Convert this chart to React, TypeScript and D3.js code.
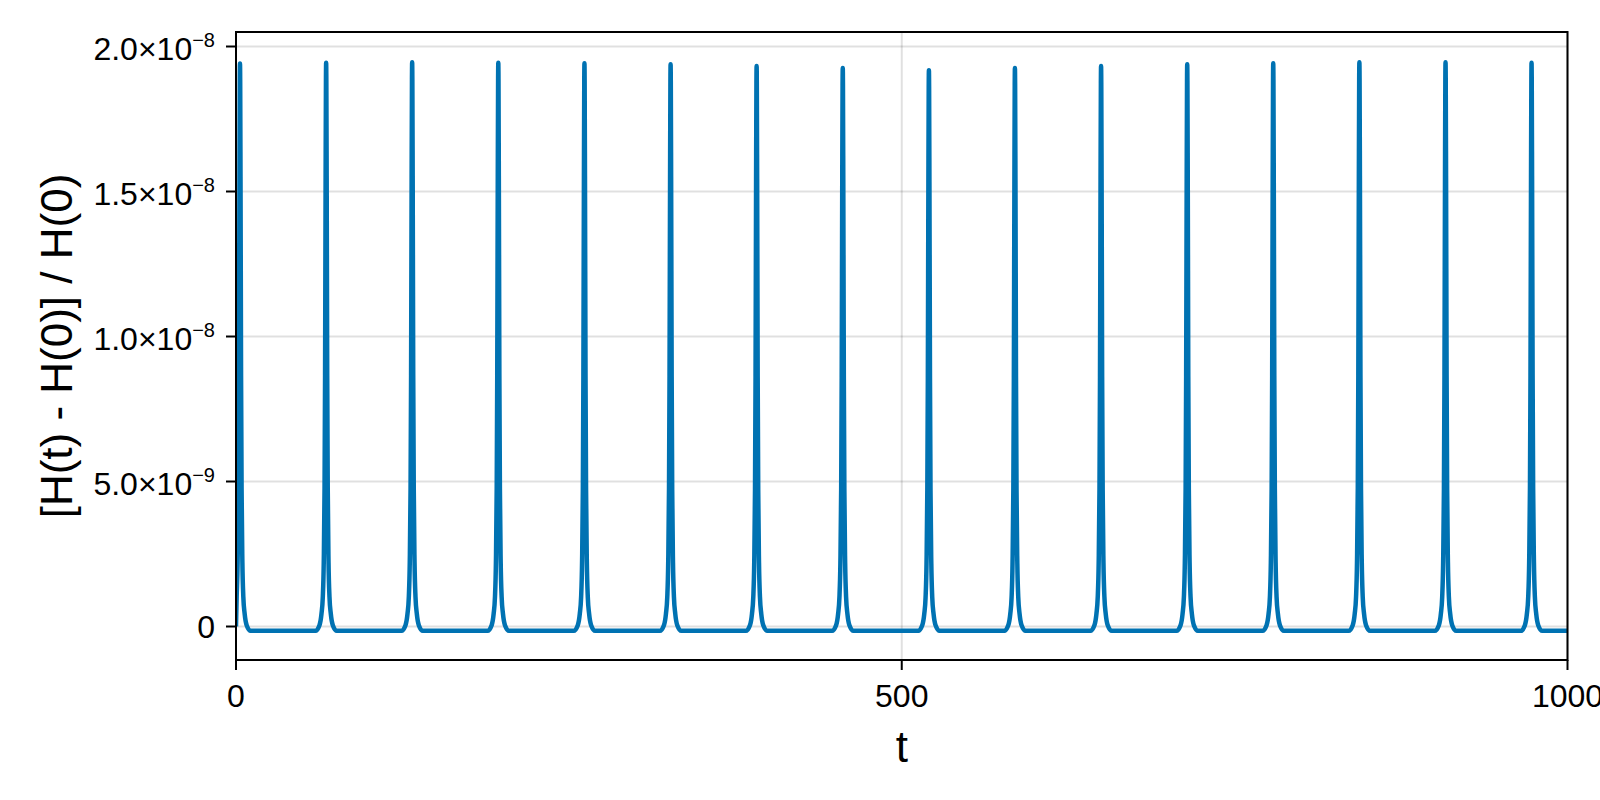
import React from 'react';
import * as d3 from 'd3';

// ---- data ----
const peakTimes = [3.0, 67.7, 132.3, 197.0, 261.7, 326.4, 391.0, 455.7, 520.4, 585.0, 649.7, 714.4, 779.0, 843.7, 908.4, 973.0];
const peakValues = [1.941e-8, 1.944e-8, 1.946e-8, 1.944e-8, 1.942e-8, 1.939e-8, 1.933e-8, 1.926e-8, 1.918e-8, 1.926e-8, 1.933e-8, 1.939e-8, 1.942e-8, 1.946e-8, 1.946e-8, 1.944e-8];
const baselineValue = -1.5e-10;
const startPoint = { t: 0, v: 0 };
const endTime = 1000;
// shape of one spike: time offset from the peak and fraction of peak height above baseline
const spikeOffsets = [-8, -5, -3.5, -2.5, -1.8, -1.2, -0.8, -0.4, -0.15, 0, 0.15, 0.4, 0.8, 1.2, 1.8, 2.5, 3.5, 5, 8];
const spikeShape = [0, 0.01, 0.03, 0.06, 0.12, 0.25, 0.45, 0.8, 0.97, 1, 0.97, 0.8, 0.45, 0.25, 0.12, 0.06, 0.03, 0.01, 0];

const xTicks = [0, 500, 1000];
const xTickLabels = ['0', '500', '1000'];
const yTicks = [0, 5e-9, 1e-8, 1.5e-8, 2e-8];
const yTickMantissas = ['0', '5.0', '1.0', '1.5', '2.0'];
const yTickExponents = ['', '−9', '−8', '−8', '−8'];

const xLabel = 't';
const yLabel = '[H(t) - H(0)] / H(0)';

// ---- layout ----
const W = 1600;
const H = 800;
const left = 236;
const right = 1567.5;
const top = 32;
const bottom = 660;
const font = '"Liberation Sans", Arial, Helvetica, sans-serif';
const lineColor = '#0072B2';
const gridColor = 'rgba(0,0,0,0.12)';

export default function App() {
  const x = d3.scaleLinear().domain([0, 1000]).range([left, right]);
  const y = d3.scaleLinear().domain([-1.155e-9, 2.05e-8]).range([bottom, top]);

  const points: { t: number; v: number }[] = [startPoint];
  peakTimes.forEach((pt, i) => {
    spikeOffsets.forEach((dt, j) => {
      const t = pt + dt;
      if (t <= 0 || t > endTime) return;
      points.push({ t, v: baselineValue + spikeShape[j] * (peakValues[i] - baselineValue) });
    });
  });
  points.push({ t: endTime, v: baselineValue });

  const line = d3
    .line<{ t: number; v: number }>()
    .x((d) => x(d.t))
    .y((d) => y(d.v))
    .curve(d3.curveMonotoneX);

  return (
    <div style={{ position: 'absolute', left: 0, top: 0, width: W, height: H, background: '#fff' }}>
      <svg width={W} height={H} style={{ display: 'block', fontFamily: font }}>
        <defs>
          <clipPath id="plotClip">
            <rect x={left} y={top} width={right - left} height={bottom - top} />
          </clipPath>
        </defs>
        <rect x={0} y={0} width={W} height={H} fill="#fff" />
        {/* grid */}
        {xTicks.map((t) => (
          <line key={'gx' + t} x1={x(t)} x2={x(t)} y1={top} y2={bottom} stroke={gridColor} strokeWidth={2} />
        ))}
        {yTicks.map((v) => (
          <line key={'gy' + v} x1={left} x2={right} y1={y(v)} y2={y(v)} stroke={gridColor} strokeWidth={2} />
        ))}
        {/* data */}
        <path
          d={line(points) || ''}
          fill="none"
          stroke={lineColor}
          strokeWidth={4.5}
          strokeLinejoin="round"
          clipPath="url(#plotClip)"
        />
        {/* spines */}
        <rect x={left} y={top} width={right - left} height={bottom - top} fill="none" stroke="#000" strokeWidth={2} />
        {/* x ticks */}
        {xTicks.map((t, i) => (
          <g key={'xt' + t}>
            <line x1={x(t)} x2={x(t)} y1={bottom} y2={bottom + 10} stroke="#000" strokeWidth={2} />
            <text x={x(t)} y={bottom + 47} textAnchor="middle" fontSize={32} fill="#000">
              {xTickLabels[i]}
            </text>
          </g>
        ))}
        {/* y ticks */}
        {yTicks.map((v, i) => (
          <g key={'yt' + v}>
            <line x1={left - 10} x2={left} y1={y(v)} y2={y(v)} stroke="#000" strokeWidth={2} />
            <text
              x={left - 21}
              y={y(v) + (yTickExponents[i] ? 13 : 11.5)}
              textAnchor="end"
              fontSize={32}
              fill="#000"
            >
              {yTickExponents[i] ? (
                <>
                  {yTickMantissas[i] + '×10'}
                  <tspan fontSize={20} dy={-13}>
                    {yTickExponents[i]}
                  </tspan>
                </>
              ) : (
                yTickMantissas[i]
              )}
            </text>
          </g>
        ))}
        {/* axis labels */}
        <text x={(left + right) / 2} y={762} textAnchor="middle" fontSize={44} fill="#000">
          {xLabel}
        </text>
        <text
          transform={`translate(72, ${(top + bottom) / 2}) rotate(-90)`}
          textAnchor="middle"
          fontSize={44}
          fill="#000"
        >
          {yLabel}
        </text>
      </svg>
    </div>
  );
}
